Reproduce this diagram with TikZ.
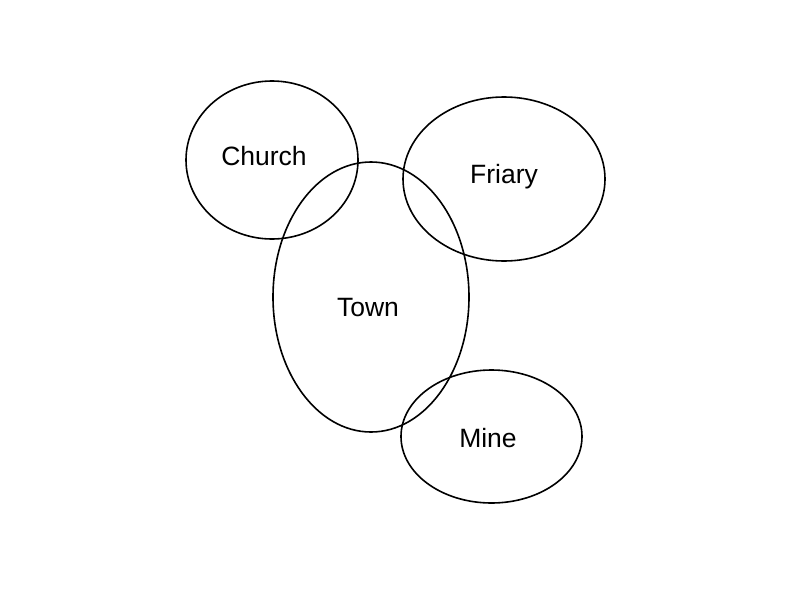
\documentclass[tikz,border=0pt]{standalone}
\usepackage{fontspec}
\setmainfont{Liberation Sans}
\usetikzlibrary{shapes.geometric}
\begin{document}
\begin{tikzpicture}[x=1pt,y=-1pt,
  region/.style={draw=black,line width=1.6pt},
  lbl/.style={font=\fontsize{26.5}{31}\selectfont,text=black}]
\useasboundingbox[fill=white] (0,0) rectangle (800,600);
\draw[region] (272,160) ellipse [x radius=86, y radius=79];
\draw[region] (504,179) ellipse [x radius=101, y radius=82];
\draw[region] (371,297) ellipse [x radius=98, y radius=135];
\draw[region] (491.5,436.5) ellipse [x radius=90.5, y radius=66.5];
\node[lbl] (church) at (264,156) {Church};
\node[lbl] (friary) at (504,176.5) {Friary};
\node[lbl] (town) at (368,308) {Town};
\node[lbl] (mine) at (488,438) {Mine};
\end{tikzpicture}
\end{document}
